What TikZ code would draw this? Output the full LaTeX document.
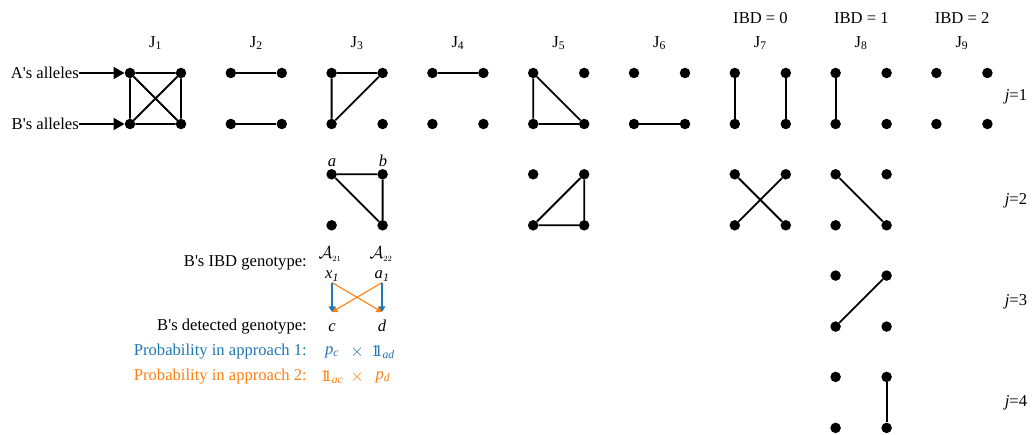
\documentclass[tikz,border=0pt]{standalone}
\usepackage{fontspec}
\setmainfont{Liberation Serif}
\usetikzlibrary{arrows.meta}
\definecolor{tblue}{RGB}{31,119,180}
\definecolor{torange}{RGB}{255,127,14}
\newcommand{\indone}{\textup{1}\kern-0.32em\textup{1}}
\newcommand{\mkdots}[2]{%
  \pgfmathsetmacro\xl{130+100.8*(#1-1)}%
  \pgfmathsetmacro\yt{73+101.3*(#2-1)}%
  \node[dot] (J#1r#2a) at (\xl,\yt) {};
  \node[dot] (J#1r#2b) at (\xl+51,\yt) {};
  \node[dot] (J#1r#2c) at (\xl,\yt+51) {};
  \node[dot] (J#1r#2d) at (\xl+51,\yt+51) {};
}
\begin{document}
\begin{tikzpicture}[x=1pt,y=-1pt,
  dot/.style={circle,fill=black,inner sep=0pt,minimum size=10.5pt},
  edge/.style={line width=1.8pt},
  lbl/.style={font=\fontsize{16.6}{19}\selectfont,inner sep=0pt},
  bigarr/.style={line width=1.8pt,-{Triangle[length=11pt,width=12pt]}},
  barr/.style={tblue,line width=1.1pt,-{Triangle[length=5.5pt,width=6.5pt]}},
  oarr/.style={torange,line width=1.1pt,-{Triangle[length=5.5pt,width=6.5pt]}}
]
\useasboundingbox (0,0) rectangle (1033,435);
% dots
\foreach \g in {1,...,9}{\mkdots{\g}{1}}
\mkdots{3}{2}
\mkdots{5}{2}
\mkdots{7}{2}
\mkdots{8}{2}
\mkdots{8}{3}
\mkdots{8}{4}
% column titles
\foreach \g in {1,...,9}{
  \pgfmathsetmacro\xc{155.5+100.8*(\g-1)}
  \node[lbl] (T\g) at (\xc,43) {J\textsubscript{\g}};
}
\node[lbl] (I0) at (760.5,18) {IBD = 0};
\node[lbl] (I1) at (861.3,18) {IBD = 1};
\node[lbl] (I2) at (962.1,18) {IBD = 2};
% row labels
\node[lbl] (jr1) at (1016,97) {\textit{j}=1};
\node[lbl] (jr2) at (1016,201) {\textit{j}=2};
\node[lbl] (jr3) at (1016,302) {\textit{j}=3};
\node[lbl] (jr4) at (1016,403) {\textit{j}=4};
% allele labels
\node[lbl,anchor=east] (Al) at (79,73) {A\textquotesingle s alleles};
\node[lbl,anchor=east] (Bl) at (79,124) {B\textquotesingle s alleles};
\draw[bigarr] (Al) -- (J1r1a);
\draw[bigarr] (Bl) -- (J1r1c);
% edges
\draw[edge] (J1r1a) -- (J1r1b) (J1r1c) -- (J1r1d) (J1r1a) -- (J1r1c) (J1r1b) -- (J1r1d) (J1r1a) -- (J1r1d) (J1r1b) -- (J1r1c);
\draw[edge] (J2r1a) -- (J2r1b) (J2r1c) -- (J2r1d);
\draw[edge] (J3r1a) -- (J3r1b) (J3r1a) -- (J3r1c) (J3r1b) -- (J3r1c);
\draw[edge] (J3r2a) -- (J3r2b) (J3r2b) -- (J3r2d) (J3r2a) -- (J3r2d);
\draw[edge] (J4r1a) -- (J4r1b);
\draw[edge] (J5r1a) -- (J5r1c) (J5r1c) -- (J5r1d) (J5r1a) -- (J5r1d);
\draw[edge] (J5r2b) -- (J5r2d) (J5r2c) -- (J5r2d) (J5r2b) -- (J5r2c);
\draw[edge] (J6r1c) -- (J6r1d);
\draw[edge] (J7r1a) -- (J7r1c) (J7r1b) -- (J7r1d);
\draw[edge] (J7r2a) -- (J7r2d) (J7r2b) -- (J7r2c);
\draw[edge] (J8r1a) -- (J8r1c);
\draw[edge] (J8r2a) -- (J8r2d);
\draw[edge] (J8r3b) -- (J8r3c);
\draw[edge] (J8r4b) -- (J8r4d);
% a, b labels
\node[lbl,anchor=base] (la) at (332,167) {\textit{a}};
\node[lbl,anchor=base] (lb) at (383,167) {\textit{b}};
% genotype block
\node[lbl,anchor=east] (ibdg) at (307,263) {B\textquotesingle s IBD genotype:};
\node[lbl] (A21) at (330,254) {$\mathcal{A}_{\scriptscriptstyle 21}$};
\node[lbl] (A22) at (381,254) {$\mathcal{A}_{\scriptscriptstyle 22}$};
\node[lbl,anchor=base,outer ysep=1pt] (x1) at (332,279) {\textit{x}\textsubscript{\textit{1}}};
\node[lbl,anchor=base,outer ysep=1pt] (a1) at (382,279) {\textit{a}\textsubscript{\textit{1}}};
\node[lbl,anchor=east] (detg) at (307,327) {B\textquotesingle s detected genotype:};
\node[lbl,anchor=base,outer ysep=8.5pt] (c) at (332,332) {\textit{c}\vphantom{\textit{d}}};
\node[lbl,anchor=base,outer ysep=8.5pt] (d) at (382,332) {\textit{d}};
\draw[oarr] (x1.south) -- (d.north);
\draw[oarr] (a1.south) -- (c.north);
\draw[barr] (x1.south) -- (c.north);
\draw[barr] (a1.south) -- (d.north);
\node[lbl,anchor=east,text=tblue] (pr1) at (307,352) {Probability in approach 1:};
\node[lbl,text=tblue] (pc) at (332,352) {\textit{p}\textsubscript{\textit{c}}};
\node[lbl,text=tblue] (m1) at (357,352) {$\times$};
\node[lbl,text=tblue] (iad) at (383,352) {\indone\textsubscript{\textit{ad}}};
\node[lbl,anchor=east,text=torange] (pr2) at (307,377) {Probability in approach 2:};
\node[lbl,text=torange] (iac) at (332,377) {\indone\textsubscript{\textit{ac}}};
\node[lbl,text=torange] (m2) at (357,377) {$\times$};
\node[lbl,text=torange] (pd) at (383,377) {\textit{p}\textsubscript{\textit{d}}};
\end{tikzpicture}
\end{document}
